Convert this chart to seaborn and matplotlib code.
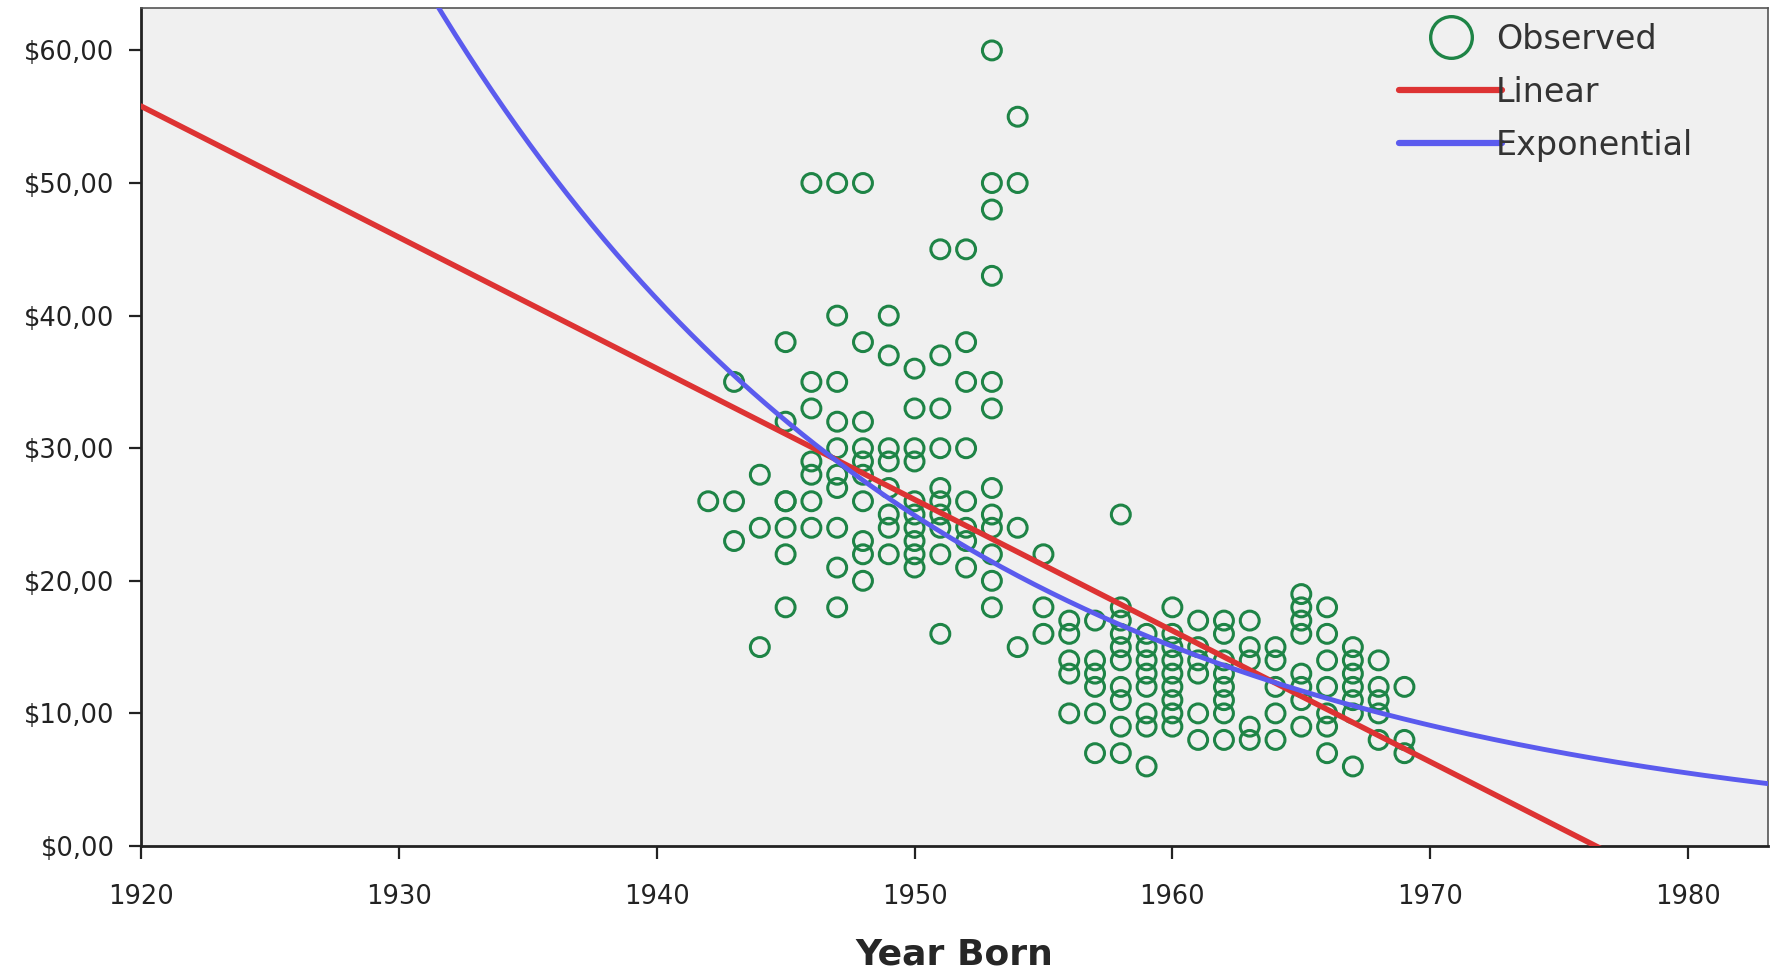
import numpy as np
import pandas as pd
import matplotlib
matplotlib.use("Agg")
import matplotlib.pyplot as plt
from matplotlib.lines import Line2D
from matplotlib.ticker import FuncFormatter
import seaborn as sns

years = list(range(1942, 1970))
salaries = [
    [26],
    [35, 26, 23],
    [28, 24, 15],
    [38, 32, 26, 26, 24, 22, 18],
    [50, 35, 33, 29, 28, 26, 24],
    [50, 40, 35, 32, 30, 28, 27, 24, 21, 18],
    [50, 38, 32, 30, 29, 28, 26, 23, 22, 20],
    [40, 37, 30, 29, 27, 25, 24, 22],
    [36, 33, 30, 29, 26, 25, 24, 23, 22, 21],
    [45, 37, 33, 30, 27, 26, 25, 24, 22, 16],
    [45, 38, 35, 30, 26, 24, 23, 21],
    [60, 50, 48, 43, 35, 33, 27, 25, 24, 22, 20, 18],
    [55, 50, 24, 15],
    [22, 18, 16],
    [17, 16, 14, 13, 10],
    [17, 14, 13, 12, 10, 7],
    [25, 18, 17, 16, 15, 14, 12, 11, 9, 7],
    [16, 15, 14, 13, 12, 10, 9, 6],
    [18, 16, 15, 14, 13, 12, 11, 10, 9],
    [17, 15, 14, 13, 10, 8],
    [17, 16, 14, 13, 12, 11, 10, 8],
    [17, 15, 14, 9, 8],
    [15, 14, 12, 10, 8],
    [19, 18, 17, 16, 13, 12, 11, 9],
    [18, 16, 14, 12, 10, 9, 7],
    [15, 14, 13, 12, 11, 10, 6],
    [14, 12, 11, 10, 8],
    [12, 8, 7],
]

# fitted curves (coefficients)
lin_b0, lin_b1 = 55.8, -0.989        # y = b0 + b1*(year-1920)
exp_b0, exp_b1 = 113.1, -0.0504      # y = b0 * exp(b1*(year-1920))

obs = pd.DataFrame(
    [(yr, v) for yr, vals in zip(years, salaries) for v in vals],
    columns=["year", "salary"],
)
grid = np.linspace(1920, 1984, 400)
curves = pd.DataFrame({
    "year": grid,
    "linear": lin_b0 + lin_b1 * (grid - 1920),
    "exponential": exp_b0 * np.exp(exp_b1 * (grid - 1920)),
})

sns.set_style("ticks", {"axes.facecolor": "#F0F0F0"})
plt.rcParams["font.family"] = ["DejaVu Sans"]

GREEN = "#1E8446"
RED = "#DD3333"
BLUE = "#5B5BEE"

fig = plt.figure(figsize=(17.72, 9.68), dpi=100)
ax = fig.add_axes([141 / 1772, 122 / 968, (1768 - 141) / 1772, (846 - 8) / 968])

sns.scatterplot(data=obs, x="year", y="salary", ax=ax, marker="o",
                s=185, facecolors="none", edgecolor=GREEN, linewidth=2.2,
                zorder=3)
sns.lineplot(data=curves, x="year", y="linear", ax=ax, color=RED,
             linewidth=4.0, zorder=4)
sns.lineplot(data=curves, x="year", y="exponential", ax=ax, color=BLUE,
             linewidth=3.5, zorder=4)

ax.set_xlim(1920, 1983.1)
ax.set_ylim(0, 63.2)
ax.set_xticks(range(1920, 1981, 10))
ax.set_yticks(range(0, 61, 10))
ax.yaxis.set_major_formatter(FuncFormatter(lambda v, p: f"${v:.2f}".replace(".", ",")))
ax.tick_params(axis="both", direction="out", length=9, width=1.6,
               labelsize=18.5, colors="#222222")
ax.tick_params(axis="x", pad=18)
ax.tick_params(axis="y", pad=10)
for side in ["left", "bottom"]:
    ax.spines[side].set_linewidth(2.0)
    ax.spines[side].set_color("#222222")
for side in ["top", "right"]:
    ax.spines[side].set_visible(True)
    ax.spines[side].set_linewidth(1.2)
    ax.spines[side].set_color("#555555")

ax.set_xlabel("Year Born", fontsize=26, fontweight="bold", labelpad=20)
ax.set_ylabel("")

handles = [
    Line2D([], [], linestyle="none", marker="o", markersize=30,
           markerfacecolor="none", markeredgecolor=GREEN, markeredgewidth=2.4),
    Line2D([], [], color=RED, linewidth=4.5),
    Line2D([], [], color=BLUE, linewidth=4.5),
]
leg = fig.legend(handles, ["Observed", "Linear", "Exponential"],
                 loc="upper left", bbox_to_anchor=(1399 / 1772, 945 / 968),
                 frameon=False, fontsize=24, handlelength=3.1,
                 handletextpad=-0.2, labelspacing=0.6, borderpad=0,
                 borderaxespad=0)
for t in leg.get_texts():
    t.set_color("#333333")

fig.savefig("out.png", dpi=100)
